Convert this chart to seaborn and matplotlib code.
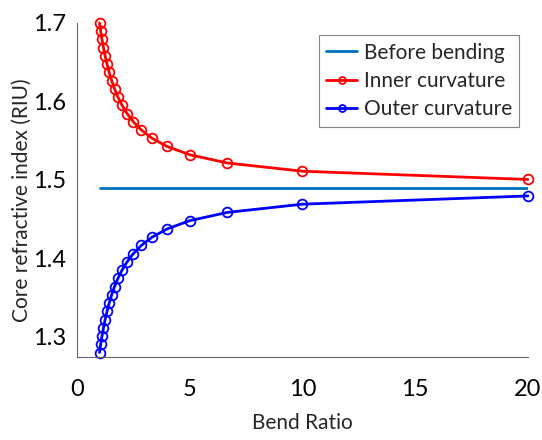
import matplotlib
matplotlib.use("Agg")
import matplotlib.pyplot as plt
import seaborn as sns
import pandas as pd

bend_ratio = [1.0, 1.0526, 1.1111, 1.1765, 1.25, 1.3333, 1.4286, 1.5385, 1.6667, 1.8182,
              2.0, 2.2222, 2.5, 2.8571, 3.3333, 4.0, 5.0, 6.6667, 10.0, 20.0]
inner = [1.700, 1.6895, 1.679, 1.6685, 1.658, 1.6475, 1.637, 1.6265, 1.616, 1.6055,
         1.595, 1.5845, 1.574, 1.5635, 1.553, 1.5425, 1.532, 1.5215, 1.511, 1.5005]
outer = [1.280, 1.2905, 1.301, 1.3115, 1.322, 1.3325, 1.343, 1.3535, 1.364, 1.3745,
         1.385, 1.3955, 1.406, 1.4165, 1.427, 1.4375, 1.448, 1.4585, 1.469, 1.4795]
before_x = [1.0, 20.0]
before_y = [1.49, 1.49]

sns.set_style("white")
plt.rcParams['font.family'] = ['Lato', 'DejaVu Sans']

fig = plt.figure(figsize=(5.42, 4.40), dpi=100)
ax = fig.add_axes([0.142, 0.189, 0.832, 0.759])

df_b = pd.DataFrame({"x": before_x, "y": before_y})
df_i = pd.DataFrame({"x": bend_ratio, "y": inner})
df_o = pd.DataFrame({"x": bend_ratio, "y": outer})

sns.lineplot(data=df_b, x="x", y="y", ax=ax, color="#0072BD", linewidth=2,
             sort=False, estimator=None, label="Before bending")
sns.lineplot(data=df_i, x="x", y="y", ax=ax, color="red", linewidth=2,
             marker="o", markersize=7, markerfacecolor="none", markeredgecolor="red",
             markeredgewidth=1.3, sort=False, estimator=None, label="Inner curvature",
             clip_on=False)
sns.lineplot(data=df_o, x="x", y="y", ax=ax, color="blue", linewidth=2,
             marker="o", markersize=7, markerfacecolor="none", markeredgecolor="blue",
             markeredgewidth=1.3, sort=False, estimator=None, label="Outer curvature",
             clip_on=False)

ax.set_xlim(0, 20)
ax.set_ylim(1.2745, 1.7)
ax.set_xticks([0, 5, 10, 15, 20])
ax.set_yticks([1.3, 1.4, 1.5, 1.6, 1.7])
ax.set_yticklabels(["1.3", "1.4", "1.5", "1.6", "1.7"])
ax.tick_params(direction="in", length=4, width=0.8, colors="#555555",
               labelsize=17, labelcolor="black", pad=8)
ax.tick_params(axis="x", pad=16)
for s in ["top", "right"]:
    ax.spines[s].set_visible(False)
for s in ["left", "bottom"]:
    ax.spines[s].set_color("#666666")
    ax.spines[s].set_linewidth(0.8)

ax.set_xlabel("Bend Ratio", fontsize=15, labelpad=9)
ax.set_ylabel("Core refractive index (RIU)", fontsize=15, labelpad=2)
ax.yaxis.set_label_coords(-0.1, 0.47)

leg = ax.legend(loc="upper right", bbox_to_anchor=(0.99, 0.975), fontsize=15,
                frameon=True, fancybox=False, handlelength=1.5, handletextpad=0.3,
                borderpad=0.35, labelspacing=0.4, borderaxespad=0.2)
leg.get_frame().set_edgecolor("#666666")
leg.get_frame().set_linewidth(0.8)
for h in leg.legend_handles:
    h.set_markersize(5)

fig.savefig("out.png", dpi=100)
